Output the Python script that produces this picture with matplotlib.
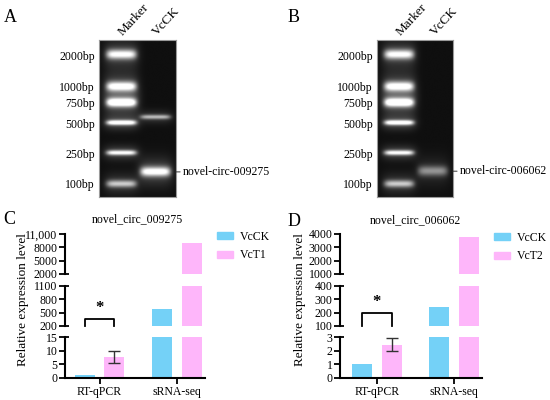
import numpy as np
import matplotlib
matplotlib.use('Agg')
import matplotlib.pyplot as plt
from matplotlib.patches import Patch

plt.rcParams['font.family'] = ['Liberation Serif', 'DejaVu Serif']
plt.rcParams['font.size'] = 8.5

# gel data: ladder sizes and their migration (fraction of gel length from the wells)
ladder_bp = [2000, 1000, 750, 500, 250, 100]
ladder_mig = [0.096, 0.299, 0.401, 0.529, 0.720, 0.917]
ladder_int = [0.80, 0.85, 1.00, 0.90, 0.80, 0.60]
ladder_sig = [0.021, 0.021, 0.019, 0.011, 0.011, 0.016]

lanes = ['Marker', 'VcCK']
gel_a_bands_bp = [560, 143]
gel_a_bands_int = [0.55, 0.85]
gel_a_bands_sig = [0.010, 0.021]
gel_a_label = 'novel-circ-009275'

gel_b_bands_bp = [146]
gel_b_bands_int = [0.42]
gel_b_bands_sig = [0.022]
gel_b_label = 'novel-circ-006062'

# qPCR / sRNA-seq data
groups = ['RT-qPCR', 'sRNA-seq']
c_title = 'novel_circ_009275'
c_ck = [1, 580]
c_t = [7.7, 9000]
c_t_err = [2.2, 0]
c_segments = [(0, 15), (200, 1100), (2000, 11000)]
c_ticks = [[0, 5, 10, 15], [200, 500, 800, 1100], [2000, 5000, 8000, 11000]]
c_ticklabels = [['0', '5', '10', '15'], ['200', '500', '800', '1100'],
                ['2000', '5000', '8000', '11,000']]

d_title = 'novel_circ_006062'
d_ck = [1, 245]
d_t = [2.45, 3800]
d_t_err = [0.5, 0]
d_segments = [(0, 3), (100, 400), (1000, 4000)]
d_ticks = [[0, 1, 2, 3], [100, 200, 300, 400], [1000, 2000, 3000, 4000]]
d_ticklabels = [[str(v) for v in t] for t in d_ticks]

blue = '#74D1F7'
pink = '#FEB6FA'


def bp_to_mig(bp):
    # standard curve of the ladder
    return np.interp(np.log10(bp), np.log10(ladder_bp[::-1]), ladder_mig[::-1])


def band(X, Y, cx, m, s, inten, w=0.175):
    core = np.exp(-0.5 * ((Y - m) / s) ** 2) * np.exp(-0.5 * (np.abs(X - cx) / w) ** 6)
    glow = 0.25 * np.exp(-0.5 * ((Y - m) / (3 * s)) ** 2) * np.exp(-0.5 * (np.abs(X - cx) / (w * 1.1)) ** 4)
    return inten * (core + glow)


def draw_gel(ax, bands_bp, bands_int, bands_sig, label):
    lane_x = [0.29, 0.735]
    X, Y = np.meshgrid(np.linspace(0, 1, 200), np.linspace(0, 1, 400))
    img = np.full(X.shape, 0.06)
    for m, i, s in zip(ladder_mig, ladder_int, ladder_sig):
        img += band(X, Y, lane_x[0], m, s, i)
    for bp, i, s in zip(bands_bp, bands_int, bands_sig):
        img += band(X, Y, lane_x[1], bp_to_mig(bp), s, i)
    ax.imshow(np.clip(img, 0, 1), cmap='gray', vmin=0, vmax=1, extent=(0, 1, 1, 0),
              aspect='auto', interpolation='bilinear')
    ax.set_xlim(0, 1)
    ax.set_ylim(1, 0)
    ax.set_xticks([])
    ax.set_yticks(ladder_mig)
    ax.set_yticklabels([f'{b}bp' for b in ladder_bp])
    ax.tick_params(axis='y', length=0, pad=3, labelsize=8.5)
    for sp in ax.spines.values():
        sp.set_color('#9a9a9a')
        sp.set_linewidth(0.8)
    for x, name in zip(lane_x, lanes):
        ax.text(x + 0.05, 1.015, name, transform=ax.transAxes, rotation=47,
                rotation_mode='anchor', ha='left', va='bottom', fontsize=9.5)
    y = bp_to_mig(bands_bp[-1])
    ax.annotate(label, xy=(1.0, y), xycoords=('axes fraction', 'data'),
                xytext=(1.09, y), textcoords=('axes fraction', 'data'),
                va='center', ha='left', fontsize=8.5,
                arrowprops=dict(arrowstyle='-', color='#333333', lw=0.7,
                                shrinkA=0, shrinkB=0))


def draw_chart(fig, left, width, xlim, title, title_xy, ylab_x, ck, t, t_err,
               segments, ticks, ticklabels, t_name, bracket_y, legend_xy):
    bottoms = [0.055, 0.185, 0.315]
    heights = [0.1025, 0.1, 0.1]
    x = np.arange(len(groups))
    off = 0.19
    bw = 0.258
    cap = 4.0 / (width * 550)  # right half of the break caps, in axes fraction
    axes = []
    for k, (lo, hi) in enumerate(segments):
        ax = fig.add_axes([left, bottoms[k], width, heights[k]])
        ax.bar(x - off, ck, bw, color=blue)
        ax.bar(x + off, t, bw, color=pink)
        ax.set_xlim(*xlim)
        ax.set_ylim(lo, hi)
        ax.set_yticks(ticks[k])
        ax.set_yticklabels(ticklabels[k])
        ax.tick_params(axis='y', length=4, width=1.3, pad=1.5, labelsize=8.5)
        for s in ['top', 'right']:
            ax.spines[s].set_visible(False)
        ax.spines['left'].set_linewidth(1.5)
        # break caps reach to the right of the spine too
        ends = []
        if k > 0:
            ends.append(0)
        if k < len(segments) - 1:
            ends.append(1)
        for e in ends:
            ax.plot([0, cap], [e, e], color='black', lw=1.3, transform=ax.transAxes,
                    clip_on=False, solid_capstyle='butt')
        if k == 0:
            ax.errorbar(x[:1] + off, t[:1], yerr=t_err[:1], fmt='none', ecolor='#333333',
                        elinewidth=1.0, capsize=4, capthick=1.0, clip_on=False)
            ax.spines['bottom'].set_linewidth(1.5)
            ax.set_xticks(x)
            ax.set_xticklabels(groups)
            ax.tick_params(axis='x', length=4, width=1.3, pad=1.5, labelsize=8.5)
        else:
            ax.spines['bottom'].set_visible(False)
            ax.set_xticks([])
        axes.append(ax)
    # significance bracket on the middle segment
    mid = axes[1]
    trans = mid.get_xaxis_transform()
    mid.plot([-off, -off, off, off], [0, bracket_y, bracket_y, 0], color='black',
             lw=1.3, transform=trans, clip_on=False)
    mid.text(0, bracket_y + 0.08, '*', transform=trans, ha='center', va='bottom',
             fontsize=12, fontweight='bold')
    fig.text(title_xy[0], title_xy[1], title, ha='center', va='center', fontsize=8.5)
    fig.text(ylab_x, 0.25, 'Relative expression level', rotation=90, ha='center',
             va='center', fontsize=9.5)
    handles = [Patch(color=blue, label='VcCK'), Patch(color=pink, label=t_name)]
    fig.legend(handles=handles, loc='upper left', bbox_to_anchor=legend_xy,
               frameon=False, borderpad=0, borderaxespad=0, handlelength=1.35,
               handleheight=0.5, handletextpad=0.6, labelspacing=0.55, fontsize=8.5)


fig = plt.figure(figsize=(5.5, 4), dpi=100)

ax_a = fig.add_axes([99 / 550, 1 - 197 / 400, 77 / 550, 157 / 400])
draw_gel(ax_a, gel_a_bands_bp, gel_a_bands_int, gel_a_bands_sig, gel_a_label)
ax_b = fig.add_axes([377 / 550, 1 - 197 / 400, 76 / 550, 157 / 400])
draw_gel(ax_b, gel_b_bands_bp, gel_b_bands_int, gel_b_bands_sig, gel_b_label)

draw_chart(fig, 65 / 550, 140 / 550, (-0.445, 1.36), c_title, (0.249, 0.4525), 0.041,
           c_ck, c_t, c_t_err, c_segments, c_ticks, c_ticklabels, 'VcT1', 0.175,
           (217 / 550, 1 - 231 / 400))
draw_chart(fig, 340 / 550, 142 / 550, (-0.48, 1.364), d_title, (0.7545, 0.45), 0.545,
           d_ck, d_t, d_t_err, d_segments, d_ticks, d_ticklabels, 'VcT2', 0.325,
           (494 / 550, 1 - 232 / 400))

for letter, (fx, fy) in zip('ABCD', [(0.018, 0.957), (0.533, 0.957), (0.016, 0.45), (0.535, 0.4475)]):
    fig.text(fx, fy, letter, ha='center', va='center', fontsize=13)

fig.savefig('out.png', dpi=100)
